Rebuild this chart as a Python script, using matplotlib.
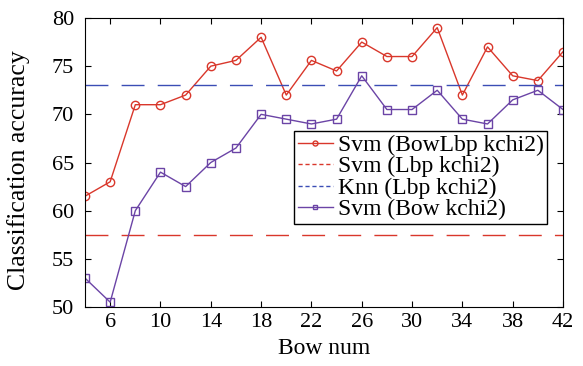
import numpy as np
import matplotlib.pyplot as plt

# data
bow_num = [4, 6, 8, 10, 12, 14, 16, 18, 20, 22, 24, 26, 28, 30, 32, 34, 36, 38, 40, 42]
svm_bowlbp = [61.5, 63, 71, 71, 72, 75, 75.6, 78, 72, 75.6, 74.5, 77.5, 76, 76, 79, 72, 77, 74, 73.5, 76.5]
svm_bow = [53, 50.5, 60, 64, 62.5, 65, 66.5, 70, 69.5, 69, 69.5, 74, 70.5, 70.5, 72.5, 69.5, 69, 71.5, 72.5, 70.5]
svm_lbp = 57.5
knn_lbp = 73.0

xticks = [6, 10, 14, 18, 22, 26, 30, 34, 38, 42]
yticks = [50, 55, 60, 65, 70, 75, 80]

plt.rcParams['font.family'] = ['Liberation Serif', 'DejaVu Serif']

fig = plt.figure(figsize=(5.83, 3.66), dpi=100)
ax = fig.add_axes([85 / 583, 1 - 307 / 366, (563 - 85) / 583, (307 - 18) / 366])

red = '#d9372b'
blue = '#3b4db5'
purple = '#6b44a6'

ax.plot(bow_num, svm_bowlbp, '-o', color=red, lw=1.0, ms=6, mfc='none', mew=1.0,
        label='Svm (BowLbp kchi2)')
ax.plot([bow_num[0], bow_num[-1]], [svm_lbp, svm_lbp], color=red, lw=1.0,
        dashes=(16.5, 9.5), label='Svm (Lbp kchi2)')
ax.plot([bow_num[0], bow_num[-1]], [knn_lbp, knn_lbp], color=blue, lw=1.0,
        dashes=(16.5, 9.5), label='Knn (Lbp kchi2)')
ax.plot(bow_num, svm_bow, '-s', color=purple, lw=1.0, ms=6, mfc='none', mew=1.0,
        label='Svm (Bow kchi2)')

ax.set_xlim(4, 42)
ax.set_ylim(50, 80)
ax.set_xticks(xticks)
ax.set_yticks(yticks)
ax.tick_params(direction='in', top=True, right=True, labelsize=16, length=4)
ax.tick_params(axis='y', pad=8)
ax.tick_params(axis='x', pad=4)
ax.set_xlabel('Bow num', fontsize=17, labelpad=5)
ax.set_ylabel('Classification accuracy', fontsize=18.5)
ax.yaxis.set_label_coords(-0.115, 0.475)

leg = ax.legend(loc='upper right', bbox_to_anchor=(0.967, 0.61), fontsize=17,
                frameon=True, fancybox=False, edgecolor='black', framealpha=1,
                handlelength=1.5, handletextpad=0.2, borderpad=0.15,
                labelspacing=0.0, borderaxespad=0, markerscale=0.6)
leg.get_frame().set_linewidth(1.0)
for h in leg.get_lines()[1:3]:
    h.set_dashes((3, 2))

fig.savefig('out.png', dpi=100)
